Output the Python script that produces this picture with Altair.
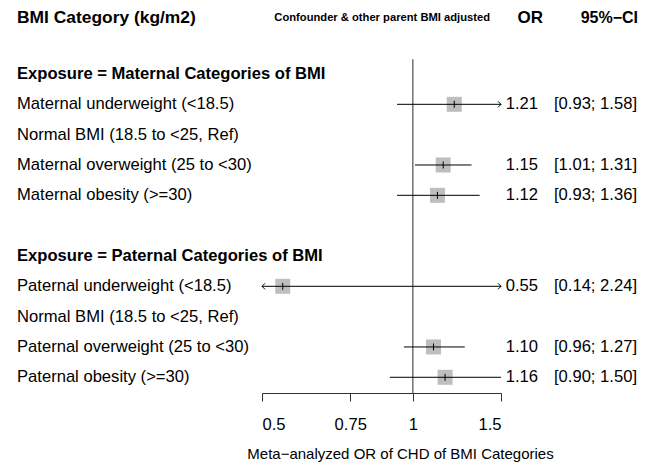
import altair as alt
import pandas as pd

# ---- data ----
labels = [
    "Exposure = Maternal Categories of BMI",
    "Maternal underweight (<18.5)",
    "Normal BMI (18.5 to <25, Ref)",
    "Maternal overweight (25 to <30)",
    "Maternal obesity (>=30)",
    "",
    "Exposure = Paternal Categories of BMI",
    "Paternal underweight (<18.5)",
    "Normal BMI (18.5 to <25, Ref)",
    "Paternal overweight (25 to <30)",
    "Paternal obesity (>=30)",
]
label_bold = [True, False, False, False, False, False, True, False, False, False, False]

est_row = [1, 3, 4, 7, 9, 10]
est_or = [1.21, 1.15, 1.12, 0.55, 1.10, 1.16]
est_lo = [0.93, 1.01, 0.93, 0.14, 0.96, 0.90]
est_hi = [1.58, 1.31, 1.36, 2.24, 1.27, 1.50]

x_ticks = [0.5, 0.75, 1, 1.5]
x_min, x_max = 0.5, 1.5
headers = ["BMI Category (kg/m2)", "Confounder & other parent BMI adjusted", "OR", "95%\u2212CI"]
x_title = "Meta\u2212analyzed OR of CHD of BMI Categories"

# ---- tables ----
lab_df = pd.DataFrame({"row": list(range(len(labels))), "label": labels, "bold": label_bold})
est_df = pd.DataFrame({"row": est_row, "est": est_or, "lo": est_lo, "hi": est_hi})
est_df["lo_c"] = est_df["lo"].clip(lower=x_min)
est_df["hi_c"] = est_df["hi"].clip(upper=x_max)
est_df["or_txt"] = est_df["est"].map(lambda v: f"{v:.2f}")
est_df["ci_txt"] = [f"[{a:.2f}; {b:.2f}]" for a, b in zip(est_df["lo"], est_df["hi"])]
right_arr = est_df[est_df["hi"] > x_max].assign(ax=x_max)
left_arr = est_df[est_df["lo"] < x_min].assign(ax=x_min)

W, H = 641, 385
FONT = "Liberation Sans"
FS = 16.6

xs = alt.Scale(type="log", domain=[x_min, x_max], range=[254, 493], nice=False)
ys = alt.Scale(domain=[-2.176, 10.518], reverse=True, nice=False, zero=False)
Y = alt.Y("row:Q", scale=ys, axis=None)

x_axis = alt.Axis(
    values=x_ticks, format=".2~f", grid=False,
    domainColor="#333333", tickColor="#333333", tickSize=8, domainWidth=1, tickWidth=1,
    labelFont=FONT, labelFontSize=FS, labelColor="black", labelPadding=15,
    title=x_title, titleFont=FONT, titleFontSize=15, titleFontWeight="normal",
    titleColor="black", titleX=392, titleY=60, titleBaseline="middle",
)

base_est = alt.Chart(est_df)

ref_line = alt.Chart(pd.DataFrame({"x": [1.0], "row": [-0.49]})).mark_rule(
    color="#7a7a7a", strokeWidth=1.6
).encode(x=alt.X("x:Q", scale=xs, axis=x_axis), y=Y, y2=alt.value(H))

squares = base_est.mark_square(size=225, color="#bebebe", opacity=1, filled=True).encode(
    x=alt.X("est:Q", scale=xs), y=Y
)
ci = base_est.mark_rule(color="black", strokeWidth=1).encode(
    x=alt.X("lo_c:Q", scale=xs), x2="hi_c:Q", y=Y
)
tick = base_est.mark_point(shape="M0,-1L0,1", size=49, filled=False, color="black", strokeWidth=1, opacity=1).encode(
    x=alt.X("est:Q", scale=xs), y=Y
)
r_arrow = alt.Chart(right_arr).mark_point(shape="M-1,-1L0,0L-1,1", size=36, filled=False, color="black", strokeWidth=1, opacity=1).encode(
    x=alt.X("ax:Q", scale=xs), y=Y
)
l_arrow = alt.Chart(left_arr).mark_point(shape="M1,-1L0,0L1,1", size=36, filled=False, color="black", strokeWidth=1, opacity=1).encode(
    x=alt.X("ax:Q", scale=xs), y=Y
)

lab_plain = alt.Chart(lab_df).transform_filter("!datum.bold").mark_text(
    align="left", baseline="middle", font=FONT, fontSize=FS, color="black"
).encode(x=alt.value(9), y=Y, text="label:N")
lab_bold = alt.Chart(lab_df).transform_filter("datum.bold").mark_text(
    align="left", baseline="middle", font=FONT, fontSize=FS, fontWeight="bold", color="black"
).encode(x=alt.value(9), y=Y, text="label:N")

or_text = base_est.mark_text(align="right", baseline="middle", font=FONT, fontSize=FS, color="black").encode(
    x=alt.value(530), y=Y, text="or_txt:N"
)
ci_text = base_est.mark_text(align="right", baseline="middle", font=FONT, fontSize=FS, color="black").encode(
    x=alt.value(629), y=Y, text="ci_txt:N"
)

hdr_row = -1.83
h1 = alt.Chart(pd.DataFrame({"row": [hdr_row], "t": [headers[0]]})).mark_text(
    align="left", baseline="middle", font=FONT, fontSize=17.4, fontWeight="bold", color="black"
).encode(x=alt.value(9), y=Y, text="t:N")
h2 = alt.Chart(pd.DataFrame({"row": [hdr_row], "t": [headers[1]]})).mark_text(
    align="right", baseline="middle", font=FONT, fontSize=11.2, fontWeight="bold", color="black"
).encode(x=alt.value(482), y=Y, text="t:N")
h3 = alt.Chart(pd.DataFrame({"row": [hdr_row], "t": [headers[2]]})).mark_text(
    align="right", baseline="middle", font=FONT, fontSize=17, fontWeight="bold", color="black"
).encode(x=alt.value(535), y=Y, text="t:N")
h4 = alt.Chart(pd.DataFrame({"row": [hdr_row], "t": [headers[3]]})).mark_text(
    align="right", baseline="middle", font=FONT, fontSize=16, fontWeight="bold", color="black"
).encode(x=alt.value(630), y=Y, text="t:N")

chart = alt.layer(
    ref_line, squares, ci, tick, r_arrow, l_arrow,
    lab_plain, lab_bold, or_text, ci_text, h1, h2, h3, h4,
).properties(
    width=W, height=H,
    autosize=alt.AutoSizeParams(type="none"),
    padding={"left": 0, "top": 0, "right": 0, "bottom": 73},
    background="white",
).configure_view(stroke=None)

chart.save("out.html", embed_options={"renderer": "svg", "actions": False})
